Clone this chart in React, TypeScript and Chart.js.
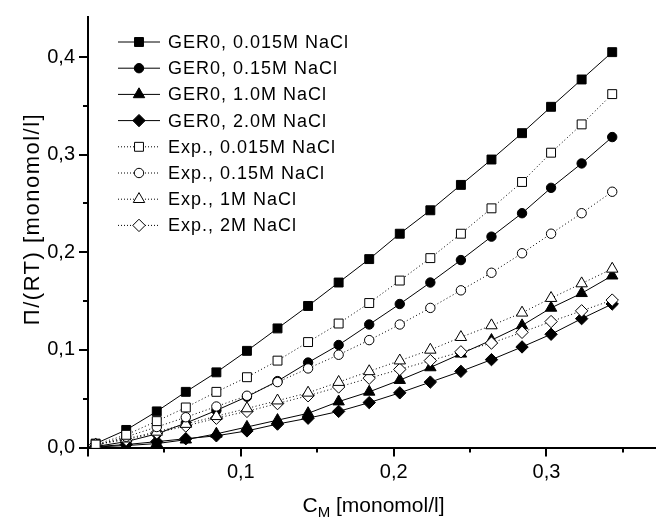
import React, { useEffect, useRef } from "react";
import { Chart, registerables } from "chart.js";

Chart.register(...registerables);

const concentrations = [0.005, 0.025, 0.045, 0.064, 0.084, 0.104, 0.124, 0.144, 0.164, 0.184, 0.204, 0.224, 0.244, 0.264, 0.284, 0.303, 0.323, 0.343];

const ger0_0015 = [0.004, 0.018, 0.037, 0.057, 0.077, 0.099, 0.122, 0.145, 0.169, 0.193, 0.219, 0.243, 0.269, 0.295, 0.322, 0.349, 0.377, 0.405];
const ger0_015 = [0.001, 0.006, 0.014, 0.025, 0.038, 0.052, 0.068, 0.087, 0.105, 0.126, 0.147, 0.169, 0.192, 0.216, 0.240, 0.266, 0.291, 0.318];
const ger0_10 = [0.0005, 0.002, 0.004, 0.008, 0.014, 0.021, 0.028, 0.035, 0.047, 0.057, 0.069, 0.082, 0.096, 0.110, 0.125, 0.143, 0.158, 0.176];
const ger0_20 = [0.001, 0.003, 0.006, 0.009, 0.012, 0.017, 0.024, 0.030, 0.037, 0.046, 0.056, 0.067, 0.078, 0.090, 0.103, 0.116, 0.132, 0.147];
const exp_0015 = [0.003, 0.013, 0.027, 0.041, 0.057, 0.072, 0.089, 0.108, 0.127, 0.148, 0.171, 0.194, 0.219, 0.245, 0.272, 0.302, 0.331, 0.362];
const exp_015 = [0.002, 0.011, 0.021, 0.031, 0.042, 0.053, 0.067, 0.081, 0.095, 0.110, 0.126, 0.143, 0.161, 0.179, 0.199, 0.219, 0.240, 0.262];
const exp_1 = [0.003, 0.009, 0.016, 0.024, 0.032, 0.040, 0.048, 0.056, 0.067, 0.078, 0.089, 0.100, 0.113, 0.125, 0.138, 0.153, 0.168, 0.183];
const exp_2 = [0.003, 0.008, 0.015, 0.022, 0.030, 0.037, 0.045, 0.053, 0.062, 0.071, 0.080, 0.089, 0.098, 0.107, 0.118, 0.129, 0.140, 0.151];

const seriesLabels = [
  "GER0, 0.015M NaCl",
  "GER0, 0.15M NaCl",
  "GER0, 1.0M NaCl",
  "GER0, 2.0M NaCl",
  "Exp., 0.015M NaCl",
  "Exp., 0.15M NaCl",
  "Exp., 1M NaCl",
  "Exp., 2M NaCl",
];
const seriesValues = [ger0_0015, ger0_015, ger0_10, ger0_20, exp_0015, exp_015, exp_1, exp_2];
const seriesMarkers = ["rect", "circle", "triangle", "rectRot", "rect", "circle", "triangle", "rectRot"];
const seriesFilled = [true, true, true, true, false, false, false, false];
const seriesDotted = [false, false, false, false, true, true, true, true];

const xTitleMain = "C";
const xTitleSub = "M";
const xTitleRest = " [monomol/l]";
const yTitle = "\u03A0/(RT) [monomol/l]";
const xMinorTicks = [0.05, 0.15, 0.25, 0.35];
const yMinorTicks = [0.05, 0.15, 0.25, 0.35];

const FONT = '"Liberation Sans", Arial, sans-serif';
const markerRadius: Record<string, number> = { rect: 6.3, circle: 4.7, triangle: 6.6, rectRot: 6.2 };

function drawMarker(ctx: CanvasRenderingContext2D, style: string, x: number, y: number, filled: boolean) {
  const r = markerRadius[style];
  ctx.beginPath();
  if (style === "rect") {
    const s = Math.SQRT1_2 * r;
    ctx.rect(x - s, y - s, 2 * s, 2 * s);
  } else if (style === "circle") {
    ctx.arc(x, y, r, 0, Math.PI * 2);
  } else if (style === "triangle") {
    ctx.moveTo(x, y - r);
    ctx.lineTo(x + (Math.sqrt(3) / 2) * r, y + r / 2);
    ctx.lineTo(x - (Math.sqrt(3) / 2) * r, y + r / 2);
    ctx.closePath();
  } else {
    ctx.moveTo(x, y - r);
    ctx.lineTo(x + r, y);
    ctx.lineTo(x, y + r);
    ctx.lineTo(x - r, y);
    ctx.closePath();
  }
  ctx.fillStyle = filled ? "#000" : "#fff";
  ctx.fill();
  ctx.lineWidth = 1;
  ctx.strokeStyle = "#000";
  ctx.stroke();
}

const decorPlugin = {
  id: "decor",
  afterDraw(chart: any) {
    const ctx: any = chart.ctx;
    const xs = chart.scales.x;
    const ys = chart.scales.y;
    ctx.save();
    ctx.strokeStyle = "#000";
    ctx.lineWidth = 2;
    xMinorTicks.forEach((v) => {
      const px = Math.round(xs.getPixelForValue(v));
      ctx.beginPath();
      ctx.moveTo(px, ys.bottom);
      ctx.lineTo(px, ys.bottom + 5);
      ctx.stroke();
    });
    yMinorTicks.forEach((v) => {
      const py = Math.round(ys.getPixelForValue(v));
      ctx.beginPath();
      ctx.moveTo(xs.left - 5, py);
      ctx.lineTo(xs.left, py);
      ctx.stroke();
    });

    // legend
    const lx0 = 118;
    const lx1 = 160;
    const tx = 168;
    seriesLabels.forEach((label, i) => {
      const y = 42 + i * 26.2;
      ctx.save();
      ctx.strokeStyle = "#000";
      ctx.lineWidth = 1;
      ctx.setLineDash(seriesDotted[i] ? [1, 2] : []);
      ctx.beginPath();
      ctx.moveTo(lx0, y);
      ctx.lineTo(lx1, y);
      ctx.stroke();
      ctx.setLineDash([]);
      drawMarker(ctx, seriesMarkers[i], (lx0 + lx1) / 2, y, seriesFilled[i]);
      ctx.restore();
      ctx.save();
      ctx.fillStyle = "#000";
      ctx.font = `18px ${FONT}`;
      ctx.letterSpacing = "1px";
      ctx.textAlign = "left";
      ctx.textBaseline = "middle";
      ctx.fillText(label, tx, y + 1);
      ctx.restore();
    });

    // x title
    ctx.fillStyle = "#000";
    ctx.textBaseline = "alphabetic";
    ctx.textAlign = "left";
    ctx.font = `21px ${FONT}`;
    const wMain = ctx.measureText(xTitleMain).width;
    ctx.font = `15px ${FONT}`;
    const wSub = ctx.measureText(xTitleSub).width;
    ctx.font = `21px ${FONT}`;
    const wRest = ctx.measureText(xTitleRest).width;
    const total = wMain + wSub + wRest;
    const cx = (xs.left + xs.right) / 2 + 2;
    const x0 = cx - total / 2;
    const base = 512;
    ctx.fillText(xTitleMain, x0, base);
    ctx.font = `15px ${FONT}`;
    ctx.fillText(xTitleSub, x0 + wMain, base + 5);
    ctx.font = `21px ${FONT}`;
    ctx.fillText(xTitleRest, x0 + wMain + wSub, base);

    // y title
    ctx.save();
    ctx.translate(33, 219);
    ctx.rotate(-Math.PI / 2);
    ctx.textAlign = "center";
    ctx.textBaseline = "middle";
    ctx.font = `22px ${FONT}`;
    ctx.letterSpacing = "1.5px";
    ctx.fillText(yTitle, 0, 0);
    ctx.restore();
    ctx.restore();
  },
};

export default function App() {
  const canvasRef = useRef<HTMLCanvasElement | null>(null);

  useEffect(() => {
    document.body.style.margin = "0";
    const canvas = canvasRef.current;
    if (!canvas) return;
    const datasets = seriesLabels.map((label, i) => ({
      label,
      data: concentrations.map((x, j) => ({ x, y: seriesValues[i][j] })),
      borderColor: "#000",
      borderWidth: 1,
      borderDash: seriesDotted[i] ? [1, 2.5] : [],
      backgroundColor: seriesFilled[i] ? "#000" : "#fff",
      pointBackgroundColor: seriesFilled[i] ? "#000" : "#fff",
      pointBorderColor: "#000",
      pointBorderWidth: 1,
      pointStyle: seriesMarkers[i],
      pointRadius: markerRadius[seriesMarkers[i]],
      fill: false,
      tension: 0,
      showLine: true,
    }));
    // draw experimental (dotted) series first so solid markers are on top
    const ordered = [...datasets.slice(4), ...datasets.slice(0, 4)];

    const chart = new Chart(canvas, {
      type: "scatter",
      data: { datasets: ordered },
      options: {
        animation: false,
        responsive: false,
        maintainAspectRatio: false,
        layout: { padding: { left: 0, right: 10, top: 17, bottom: 0 } },
        plugins: {
          legend: { display: false },
          tooltip: { enabled: false },
        },
        scales: {
          x: {
            type: "linear",
            min: 0,
            max: 0.371,
            grid: {
              display: true,
              drawOnChartArea: false,
              drawTicks: true,
              tickLength: 9,
              color: "#000",
              lineWidth: 2,
            },
            border: { display: true, color: "#000", width: 2 },
            ticks: {
              stepSize: 0.1,
              includeBounds: false,
              padding: 4,
              color: "#000",
              font: { family: FONT, size: 20 },
              maxRotation: 0,
              callback: (v: any) => (Math.abs(v) < 1e-9 ? "" : Number(v).toFixed(1).replace(".", ",")),
            },
            afterFit: (scale: any) => {
              scale.height = 73.5;
            },
          },
          y: {
            type: "linear",
            min: 0,
            max: 0.441,
            grid: {
              display: true,
              drawOnChartArea: false,
              drawTicks: true,
              tickLength: 9,
              color: "#000",
              lineWidth: 2,
            },
            border: { display: true, color: "#000", width: 2 },
            ticks: {
              stepSize: 0.1,
              includeBounds: false,
              padding: 4,
              color: "#000",
              font: { family: FONT, size: 20 },
              callback: (v: any) => Number(v).toFixed(1).replace(".", ","),
            },
            afterFit: (scale: any) => {
              scale.width = 88;
            },
          },
        },
      },
      plugins: [decorPlugin],
    } as any);

    return () => {
      chart.destroy();
    };
  }, []);

  return (
    <div style={{ width: 665, height: 521 }}>
      <canvas ref={canvasRef} width={665} height={521} style={{ display: "block" }} />
    </div>
  );
}
